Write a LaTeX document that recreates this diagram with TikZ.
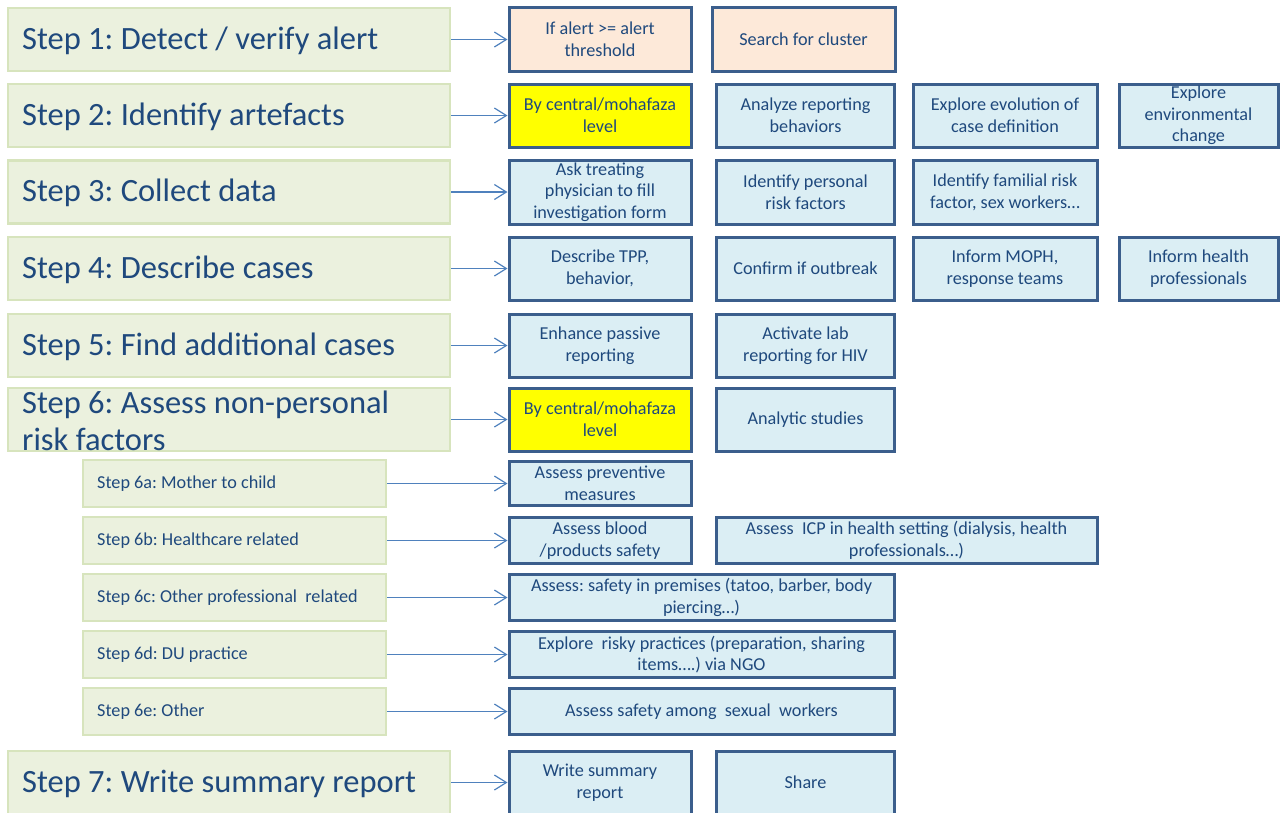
\documentclass[tikz,border=0pt]{standalone}
\usepackage{fontspec}
\setmainfont{Carlito}
\frenchspacing
\usetikzlibrary{arrows.meta}
\definecolor{txtblue}{HTML}{1F497D}
\definecolor{greenfill}{HTML}{EBF1DE}
\definecolor{greenline}{HTML}{D7E4BD}
\definecolor{boxfill}{HTML}{DBEEF4}
\definecolor{boxline}{HTML}{3B5E8C}
\definecolor{peach}{HTML}{FDE9D9}
\definecolor{hilite}{HTML}{FFFF00}
\definecolor{arrowblue}{HTML}{4F81BD}
\tikzset{
  stepbig/.style={draw=greenline, fill=greenfill, line width=2.5pt, inner sep=0pt,
    minimum width=442pt, minimum height=63pt},
  steplabel/.style={inner sep=0pt, anchor=west, text=txtblue, align=left,
    font=\fontsize{32.5}{37}\selectfont},
  stepsmall/.style={draw=greenline, fill=greenfill, line width=2.5pt, inner sep=0pt,
    minimum width=303pt, minimum height=47pt},
  smalllabel/.style={inner sep=0pt, anchor=west, text=txtblue,
    font=\fontsize{18.2}{21.7}\selectfont},
  bbox/.style={draw=boxline, fill=boxfill, line width=3pt, inner sep=0pt,
    align=center, text=txtblue, font=\fontsize{18.2}{21.7}\selectfont},
  arr/.style={draw=arrowblue, line width=1.2pt,
    -{Straight Barb[length=12pt,width=15pt,line width=1.2pt]}}
}
% action box: [extra style] name, cx, cy, w, h, text
\newcommand{\bx}[7][]{%
  \node[bbox, minimum width=#5pt, minimum height=#6pt, #1] (#2) at (#3,#4) {#7};}
\begin{document}
\begin{tikzpicture}[x=1pt,y=-1pt]
\useasboundingbox (0,0) rectangle (1280,812);

% main steps
\node[stepbig] (s1) at (229,39.5) {};
\node[stepbig] (s2) at (229,115.5) {};
\node[stepbig] (s3) at (229,192) {};
\node[stepbig] (s4) at (229,268.5) {};
\node[stepbig] (s5) at (229,345.5) {};
\node[stepbig] (s6) at (229,419.5) {};
\node[stepbig] (s7) at (229,782.5) {};
\node[steplabel] (t1) at (22,40.5) {Step 1: Detect / verify alert};
\node[steplabel] (t2) at (22,116.5) {Step 2: Identify artefacts};
\node[steplabel] (t3) at (22,193) {Step 3: Collect data};
\node[steplabel] (t4) at (22,269.5) {Step 4: Describe cases};
\node[steplabel] (t5) at (22,346.5) {Step 5: Find additional cases};
\node[steplabel] (t6) at (22,421) {Step 6: Assess non-personal\\risk factors};
\node[steplabel] (t7) at (22,783.5) {Step 7: Write summary report};

% sub-steps of step 6
\node[stepsmall] (s6a) at (234.5,483.5) {};
\node[stepsmall] (s6b) at (234.5,540.5) {};
\node[stepsmall] (s6c) at (234.5,597.5) {};
\node[stepsmall] (s6d) at (234.5,654.5) {};
\node[stepsmall] (s6e) at (234.5,711.5) {};
\node[smalllabel] (t6a) at (97,484) {Step 6a: Mother to child};
\node[smalllabel] (t6b) at (97,541) {Step 6b: Healthcare related};
\node[smalllabel] (t6c) at (97,598) {Step 6c: Other professional\ \ related};
\node[smalllabel] (t6d) at (97,655) {Step 6d: DU practice};
\node[smalllabel] (t6e) at (97,712) {Step 6e: Other};

% action boxes
\bx[fill=peach]{b11}{600}{39}{182}{64}{If alert >= alert\\threshold}
\bx[fill=peach]{b12}{803.5}{39}{183}{64}{Search for cluster}

\bx[fill=hilite]{b21}{600}{115.5}{182}{63}{By central/mohafaza\\level}
\bx{b22}{805.5}{115.5}{178}{63}{Analyze reporting\\behaviors}
\bx{b23}{1005}{115.5}{184}{63}{Explore evolution of\\case definition}
\bx{b24}{1198.5}{115.5}{159}{63}{Explore\\environmental\\change}

\bx{b31}{600}{192}{182}{64}{Ask treating\\physician to fill\\investigation form}
\bx{b32}{805.5}{192}{178}{64}{Identify personal\\risk factors}
\bx{b33}{1005}{192}{184}{64}{Identify familial risk\\factor, sex workers…}

\bx{b41}{600}{268.5}{182}{63}{Describe TPP,\\behavior,}
\bx{b42}{805.5}{268.5}{178}{63}{Confirm if outbreak}
\bx{b43}{1005}{268.5}{184}{63}{Inform MOPH,\\response teams}
\bx{b44}{1198.5}{268.5}{159}{63}{Inform health\\professionals}

\bx{b51}{600}{345.5}{182}{63}{Enhance passive\\reporting}
\bx{b52}{805.5}{345.5}{178}{63}{Activate lab\\reporting for HIV}

\bx[fill=hilite]{b61}{600}{419.5}{182}{63}{By central/mohafaza\\level}
\bx{b62}{805.5}{419.5}{178}{63}{Analytic studies}

\bx{ba1}{600}{483}{182}{44}{Assess preventive\\measures}
\bx{bb1}{600}{540.5}{182}{46}{Assess blood\\/products safety}
\bx{bb2}{906.5}{540.5}{381}{46}{Assess\ \ ICP in health setting (dialysis, health\\professionals…)}
\bx{bc1}{701.5}{597.5}{385}{46}{Assess: safety in premises (tatoo, barber, body\\piercing…)}
\bx{bd1}{701.5}{654.5}{385}{46}{Explore\ \ risky practices (preparation, sharing\\items….) via NGO}
\bx{be1}{701.5}{711.5}{385}{46}{Assess safety among\ \ sexual\ \ workers}

\bx{b71}{600}{782.5}{182}{63}{Write summary\\report}
\bx{b72}{805.5}{782.5}{178}{63}{Share}

% connectors
\foreach \s/\b in {s1/b11, s2/b21, s3/b31, s4/b41, s5/b51, s6/b61,
                   s6a/ba1, s6b/bb1, s6c/bc1, s6d/bd1, s6e/be1, s7/b71}
  \draw[arr] (\s.east) -- (\s.east -| \b.west);
\end{tikzpicture}
\end{document}
